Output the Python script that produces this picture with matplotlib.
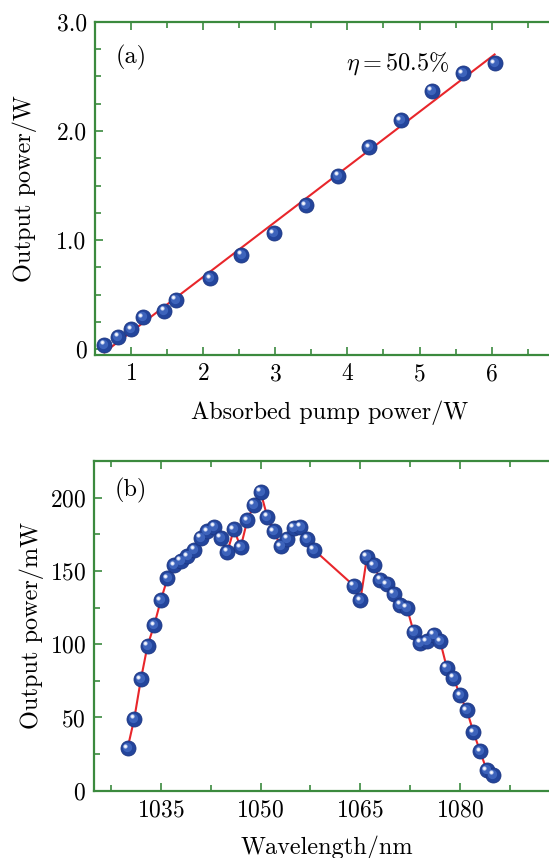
import numpy as np
import matplotlib
matplotlib.use("Agg")
import matplotlib.pyplot as plt
from matplotlib.ticker import MultipleLocator
from matplotlib.transforms import offset_copy

plt.rcParams['font.family'] = ['cmr10', 'DejaVu Serif']
plt.rcParams['mathtext.fontset'] = 'cm'
plt.rcParams['axes.formatter.use_mathtext'] = True

# (a) output power vs absorbed pump power
pump_w = [0.63, 0.82, 1.0, 1.16, 1.46, 1.62, 2.10, 2.53, 2.98, 3.42,
          3.87, 4.30, 4.74, 5.17, 5.60, 6.04]
out_w = [0.04, 0.115, 0.18, 0.29, 0.35, 0.45, 0.65, 0.865, 1.06, 1.32,
         1.59, 1.85, 2.10, 2.37, 2.53, 2.62]
slope = 0.505        # eta = 50.5 %
threshold = 0.69     # W
a_xticks = [1, 2, 3, 4, 5, 6]
a_yticks = [0, 1, 2, 3]
a_yticklabels = ['0', '1.0', '2.0', '3.0']

# (b) output power vs wavelength
wl_nm = [1030, 1031, 1032, 1033, 1034, 1035, 1036, 1037, 1038, 1039,
         1040, 1041, 1042, 1043, 1044, 1045, 1046, 1047, 1048, 1049,
         1050, 1051, 1052, 1053, 1054, 1055, 1056, 1057, 1058,
         1064, 1065, 1066, 1067, 1068, 1069, 1070, 1071, 1072, 1073,
         1074, 1075, 1076, 1077, 1078, 1079, 1080, 1081, 1082, 1083,
         1084, 1085]
out_mw = [29, 49, 76, 99, 113, 130, 145, 154, 157, 160,
          164.5, 172.5, 177, 180, 172.5, 163, 178.5, 166, 184.5, 195,
          204, 187, 177, 167, 172, 179.5, 180, 172, 164.5,
          140, 130, 159.5, 154, 144, 141, 134.5, 127, 125, 108.5,
          101, 102, 106.5, 102, 84, 77, 65, 55, 40, 27,
          14, 11]
b_xticks = [1035, 1050, 1065, 1080]
b_yticks = [0, 50, 100, 150, 200]

green = '#3b8a3e'
red = '#e8262b'


def spheres(ax, x, y, ms=10.8):
    fig = ax.figure
    ax.plot(x, y, 'o', ms=ms, color='#23459c', mec='#1b3582', mew=0.6,
            zorder=4, ls='none')
    t1 = offset_copy(ax.transData, fig, x=-0.9, y=1.0, units='dots')
    ax.plot(x, y, 'o', ms=ms * 0.62, color='#3d63bb', mew=0,
            transform=t1, zorder=5, ls='none')
    t2 = offset_copy(ax.transData, fig, x=-2.5, y=2.5, units='dots')
    ax.plot(x, y, 'o', ms=ms * 0.28, color='#c9d4f2', mew=0,
            transform=t2, zorder=6, ls='none')
    ax.plot(x, y, 'o', ms=ms * 0.14, color='white', mew=0,
            transform=t2, zorder=7, ls='none')


def style(ax):
    for side in ['left', 'bottom', 'top']:
        ax.spines[side].set_color(green)
        ax.spines[side].set_linewidth(1.6)
    ax.spines['right'].set_visible(False)
    ax.tick_params(which='both', direction='in', color=green, top=True,
                   right=False, width=1.2, labelsize=17, pad=6)
    ax.tick_params(which='major', length=5.5)
    ax.tick_params(which='minor', length=4)


fig = plt.figure(figsize=(5.49, 8.58), dpi=100)

# panel (a)
ax1 = fig.add_axes([0.173, 0.5862, 0.854, 0.3882])
style(ax1)
xf = np.array([pump_w[0], pump_w[-1]])
ax1.plot(xf, slope * (xf - threshold), color=red, lw=1.5, zorder=3)
spheres(ax1, pump_w, out_w)
ax1.set_xlim(0.5, 7)
ax1.set_ylim(-0.055, 3.0)
ax1.set_xticks(a_xticks)
ax1.set_yticks(a_yticks, labels=a_yticklabels)
ax1.xaxis.set_minor_locator(MultipleLocator(0.5))
ax1.yaxis.set_minor_locator(MultipleLocator(0.25))
ax1.set_xlabel('Absorbed pump power/W', fontsize=17.5, labelpad=11)
ax1.set_ylabel('Output power/W', fontsize=17.5, labelpad=14)
ax1.text(0.044, 0.895, '(a)', transform=ax1.transAxes, fontsize=17.5,
         va='center', ha='left')
ax1.text(0.535, 0.875, r'$\eta = 50.5\%$', transform=ax1.transAxes,
         fontsize=17.5, va='center', ha='left')

# panel (b)
ax2 = fig.add_axes([0.1718, 0.0784, 0.848, 0.3843])
style(ax2)
ax2.plot(wl_nm, out_mw, color=red, lw=1.5, zorder=3)
spheres(ax2, wl_nm, out_mw)
ax2.set_xlim(1025, 1095)
ax2.set_ylim(0, 225)
ax2.set_xticks(b_xticks)
ax2.set_yticks(b_yticks)
ax2.xaxis.set_minor_locator(MultipleLocator(7.5))
ax2.yaxis.set_minor_locator(MultipleLocator(25))
ax2.set_xlabel('Wavelength/nm', fontsize=17.5, labelpad=10)
ax2.set_ylabel('Output power/mW', fontsize=17.5, labelpad=4)
ax2.text(0.044, 0.91, '(b)', transform=ax2.transAxes, fontsize=17.5,
         va='center', ha='left')

fig.savefig('out.png', dpi=100)
